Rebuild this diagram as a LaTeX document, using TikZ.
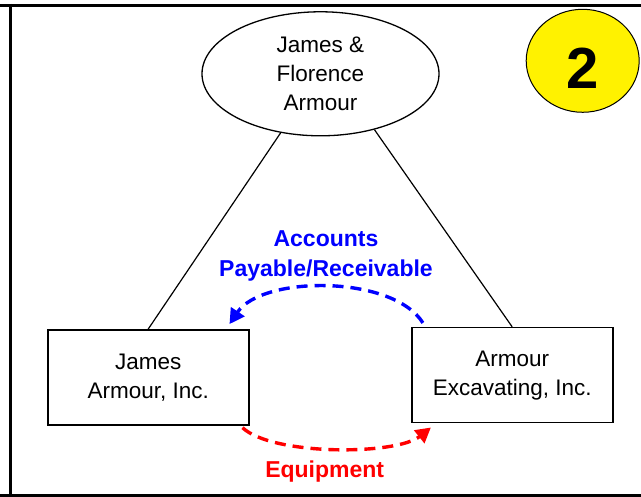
\documentclass[tikz,border=0pt]{standalone}
\usepackage{fontspec}
\setmainfont{Liberation Sans}
\usetikzlibrary{arrows.meta,shapes.geometric}

\begin{document}
\begin{tikzpicture}[x=1pt,y=1pt]
  \tikzset{entity/.style={draw,line width=1.6pt,minimum width=201pt,minimum height=95pt,
                          inner sep=0pt,align=center,font=\fontsize{22.5}{29}\selectfont},
           link/.style={line width=1.2pt},
           flow/.style={line width=3.4pt,dash pattern=on 11pt off 7pt,
                        -{Triangle[length=15pt,width=16pt]}},
           flowlabel/.style={font=\fontsize{23}{30}\selectfont\bfseries,align=center}}
  \useasboundingbox (0,0) rectangle (641,497);
  \draw[line width=3pt] (0,491.5) -- (641,491.5);
  \draw[line width=3pt] (0,1.5) -- (641,1.5);
  \draw[line width=3pt] (10.3,493) -- (10.3,0);
  \node[ellipse,draw,line width=1.3pt,minimum width=237pt,minimum height=124pt,inner sep=0pt,
        align=center,font=\fontsize{22.5}{29}\selectfont] (owners) at (320.5,423.2)
        {James \&\\Florence\\Armour};
  \node[ellipse,draw,fill=yellow,line width=1pt,minimum width=113pt,minimum height=103pt,
        inner sep=0pt,font=\fontsize{58}{58}\selectfont\bfseries,text height=55pt] (num)
        at (582.7,436.2) {2};
  \node[entity] (jai) at (148.2,119.6) {James\\Armour, Inc.};
  \node[entity] (aei) at (512.2,121.8) {Armour\\Excavating, Inc.};
  \draw[link] (owners) -- (jai.north);
  \draw[link] (owners.-46) -- (aei.north);
  \draw[flow,blue] ([xshift=12pt,yshift=4pt]aei.north west)
        .. controls +(-30,48) and +(33,49) .. ([xshift=-20pt,yshift=5pt]jai.north east);
  \draw[flow,red] ([xshift=-7pt,yshift=-2pt]jai.south east)
        .. controls +(30,-28) and +(-35,-28) .. ([xshift=20pt,yshift=-4pt]aei.south west);
  \node[flowlabel,text=blue] (ap) at (326,241.3) {Accounts\\Payable/Receivable};
  \node[flowlabel,text=red,anchor=base] (equip) at (324.7,19) {Equipment};
\end{tikzpicture}
\end{document}
